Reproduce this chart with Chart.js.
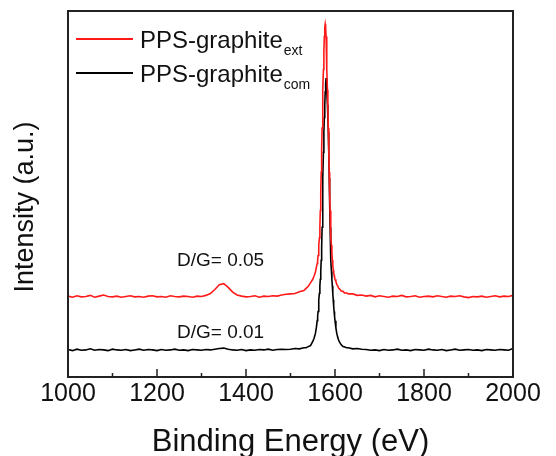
<!DOCTYPE html>
<html>
<head>
<meta charset="utf-8">
<script src="https://cdn.jsdelivr.net/npm/chart.js@4"></script>
<style>
  html, body { margin: 0; padding: 0; background: #fff; }
  canvas { display: block; }
</style>
</head>
<body>
<canvas id="raman" width="556" height="456"></canvas>
<script>
// Raman shift axis (eV as labelled in the figure)
const energy = [
  1000,1010,1020,1030,1040,1050,1060,1070,1080,1090,
  1100,1110,1120,1130,1140,1150,1160,1170,1180,1190,
  1200,1210,1220,1230,1240,1250,1260,1270,1280,1290,
  1300,1310,1320,1330,1340,1350,1360,1370,1380,1390,
  1400,1410,1420,1430,1440,1450,1460,1470,1480,1490,
  1500,1510,1520,1530,1535,1540,1545,1550,1553,1556,
  1558,1560,1561,1562,1563,1564,1565,1566,1567,1568,
  1569,1570,1571,1572,1573,1574,1575,1576,1577,1578,
  1579,1580,1581,1582,1583,1584,1585,1586,1587,1588,
  1589,1590,1591,1592,1593,1594,1595,1596,1597,1598,
  1599,1600,1602,1604,1606,1608,1610,1614,1618,1622,
  1626,1630,1640,1650,1660,1670,1680,1690,1700,1710,
  1720,1730,1740,1750,1760,1770,1780,1790,1800,1810,
  1820,1830,1840,1850,1860,1870,1880,1890,1900,1910,
  1920,1930,1940,1950,1960,1970,1980,1990,2000
];

// PPS-graphite ext (red)
const extIntensity = [
  22.1,21.8,22.2,21.9,22.0,22.3,21.8,22.1,22.4,22.0,
  21.9,22.1,21.8,22.0,22.2,21.9,22.0,21.8,22.1,22.2,
  21.9,22.0,21.8,22.2,22.0,21.9,22.1,22.0,21.8,22.1,
  22.0,22.3,22.8,23.9,25.2,25.5,24.5,23.2,22.4,22.1,
  21.9,22.0,22.2,21.8,22.1,22.0,22.2,22.1,22.4,22.6,
  22.7,22.8,23.3,23.6,24.2,24.8,25.7,26.7,27.6,28.7,
  29.9,31.0,32.0,33.2,34.5,36.0,38.0,41.0,45.5,50.5,
  56.0,62.0,68.0,73.0,78.5,84.0,89.0,93.0,95.5,96.4,
  95.5,93.0,89.0,84.0,78.5,73.0,68.0,62.0,56.0,50.5,
  45.5,41.0,38.0,36.0,34.0,32.0,30.6,29.3,28.5,27.8,
  27.2,26.7,26.1,25.3,24.9,24.3,24.1,23.5,23.4,22.9,
  23.0,22.7,22.7,22.3,22.4,22.1,22.3,21.9,22.2,22.0,
  21.8,22.1,22.0,22.3,21.9,22.0,22.2,21.8,22.0,22.1,
  21.9,22.2,22.0,21.8,22.1,22.0,22.2,21.9,21.7,22.0,
  21.9,22.1,21.8,22.0,22.2,21.9,22.1,22.0,22.3
];

// PPS-graphite com (black)
const comIntensity = [
  7.5,7.2,7.6,7.3,7.4,7.7,7.3,7.5,7.4,7.2,
  7.6,7.4,7.3,7.5,7.2,7.4,7.6,7.3,7.5,7.4,
  7.2,7.5,7.3,7.4,7.6,7.3,7.4,7.2,7.5,7.4,
  7.3,7.5,7.4,7.6,7.8,7.9,7.6,7.4,7.3,7.5,
  7.2,7.4,7.3,7.5,7.4,7.6,7.3,7.5,7.6,7.5,
  7.6,7.8,7.7,8.0,8.0,8.3,8.6,9.7,10.6,11.9,
  13.4,15.4,16.6,17.9,19.4,21.1,22.9,24.9,26.7,28.9,
  31.9,35.4,40.9,47.4,54.4,61.4,66.9,70.9,74.4,77.9,
  80.4,81.7,80.4,77.9,74.4,70.9,66.9,61.4,54.4,47.4,
  40.9,35.4,31.9,28.9,26.7,24.9,22.9,21.1,19.4,17.9,
  16.6,15.4,13.4,11.9,10.9,10.1,9.6,8.8,8.3,8.2,
  8.0,8.0,7.7,7.8,7.6,7.5,7.3,7.4,7.2,7.5,
  7.3,7.4,7.6,7.3,7.4,7.2,7.5,7.4,7.3,7.6,
  7.4,7.3,7.5,7.2,7.4,7.6,7.3,7.4,7.5,7.3,
  7.4,7.2,7.5,7.4,7.3,7.5,7.4,7.3,7.8
];

const seriesNames = ["PPS-graphite", "PPS-graphite"];
const seriesSubs = ["ext", "com"];
const xTicks = [1000, 1200, 1400, 1600, 1800, 2000];
const xMinorTicks = [1100, 1300, 1500, 1700, 1900];
// D/G ratio labels: [text, energy, intensity]
const ratioNotes = [
  ["D/G= 0.05", 1245, 31.7],
  ["D/G= 0.01", 1245, 12.0]
];

const FONT = "'Liberation Sans', Arial, sans-serif";
const INK = "#111";

const toPoints = (ys) => energy.map((e, i) => ({ x: e, y: ys[i] }));

// frame, inward ticks, legend with subscripts, notes, y title
const decorations = {
  id: "decorations",
  afterDatasetsDraw(chart) {
    const { ctx, chartArea: a, scales } = chart;
    const xs = scales.x, ys = scales.y;
    ctx.save();
    ctx.strokeStyle = "#222";
    ctx.lineWidth = 2;
    ctx.strokeRect(a.left, a.top, a.right - a.left, a.bottom - a.top);

    ctx.lineWidth = 1.5;
    ctx.beginPath();
    xTicks.forEach((v) => {
      const px = xs.getPixelForValue(v);
      ctx.moveTo(px, a.bottom);
      ctx.lineTo(px, a.bottom - 8);
    });
    xMinorTicks.forEach((v) => {
      const px = xs.getPixelForValue(v);
      ctx.moveTo(px, a.bottom);
      ctx.lineTo(px, a.bottom - 4);
    });
    ctx.stroke();

    // legend
    const colors = ["#ff1a1a", "#000"];
    const rows = [a.top + 28, a.top + 62];
    seriesNames.forEach((name, i) => {
      const y = rows[i];
      ctx.strokeStyle = colors[i];
      ctx.lineWidth = 2;
      ctx.beginPath();
      ctx.moveTo(a.left + 8, y);
      ctx.lineTo(a.left + 65, y);
      ctx.stroke();
      ctx.fillStyle = INK;
      ctx.textAlign = "left";
      ctx.textBaseline = "alphabetic";
      ctx.font = "24px " + FONT;
      const tx = a.left + 72;
      ctx.fillText(name, tx, y + 9);
      const w = ctx.measureText(name).width;
      ctx.font = "14px " + FONT;
      ctx.fillText(seriesSubs[i], tx + w + 1, y + 16);
    });

    // D/G notes
    ctx.font = "19px " + FONT;
    ctx.fillStyle = INK;
    ctx.textBaseline = "middle";
    ratioNotes.forEach(([t, e, v]) => {
      ctx.fillText(t, xs.getPixelForValue(e), ys.getPixelForValue(v));
    });

    // y title
    ctx.translate(26, (a.top + a.bottom) / 2 + 13);
    ctx.rotate(-Math.PI / 2);
    ctx.textAlign = "center";
    ctx.font = "27px " + FONT;
    ctx.fillText("Intensity (a.u.)", 0, 0);
    ctx.restore();
  }
};

new Chart(document.getElementById("raman"), {
  type: "line",
  data: {
    datasets: [
      {
        label: "PPS-graphite ext",
        data: toPoints(extIntensity),
        borderColor: "#ff1a1a",
        borderWidth: 1.6,
        pointRadius: 0,
        tension: 0,
      },
      {
        label: "PPS-graphite com",
        data: toPoints(comIntensity),
        borderColor: "#000",
        borderWidth: 1.6,
        pointRadius: 0,
        tension: 0,
      },
    ],
  },
  options: {
    responsive: false,
    animation: false,
    devicePixelRatio: 1,
    layout: { padding: { top: 11, right: 43, left: 0, bottom: 0 } },
    plugins: { legend: { display: false }, tooltip: { enabled: false } },
    scales: {
      x: {
        type: "linear",
        min: 1000,
        max: 2000,
        afterBuildTicks: (s) => { s.ticks = xTicks.map((v) => ({ value: v })); },
        afterFit: (s) => { s.height = 79; },
        grid: { display: false, drawTicks: false },
        border: { display: false },
        ticks: {
          font: { size: 25, family: FONT },
          color: INK,
          padding: 2,
          maxRotation: 0,
          autoSkip: false,
          callback: (v) => String(v),
        },
        title: {
          display: true,
          text: "Binding Energy (eV)",
          color: INK,
          font: { size: 31, family: FONT, lineHeight: 0.8 },
          padding: { top: 0, bottom: 1 },
        },
      },
      y: {
        min: 0,
        max: 100,
        afterFit: (s) => { s.width = 68; },
        grid: { display: false },
        border: { display: false },
        ticks: { display: false },
      },
    },
  },
  plugins: [decorations],
});
</script>
</body>
</html>
